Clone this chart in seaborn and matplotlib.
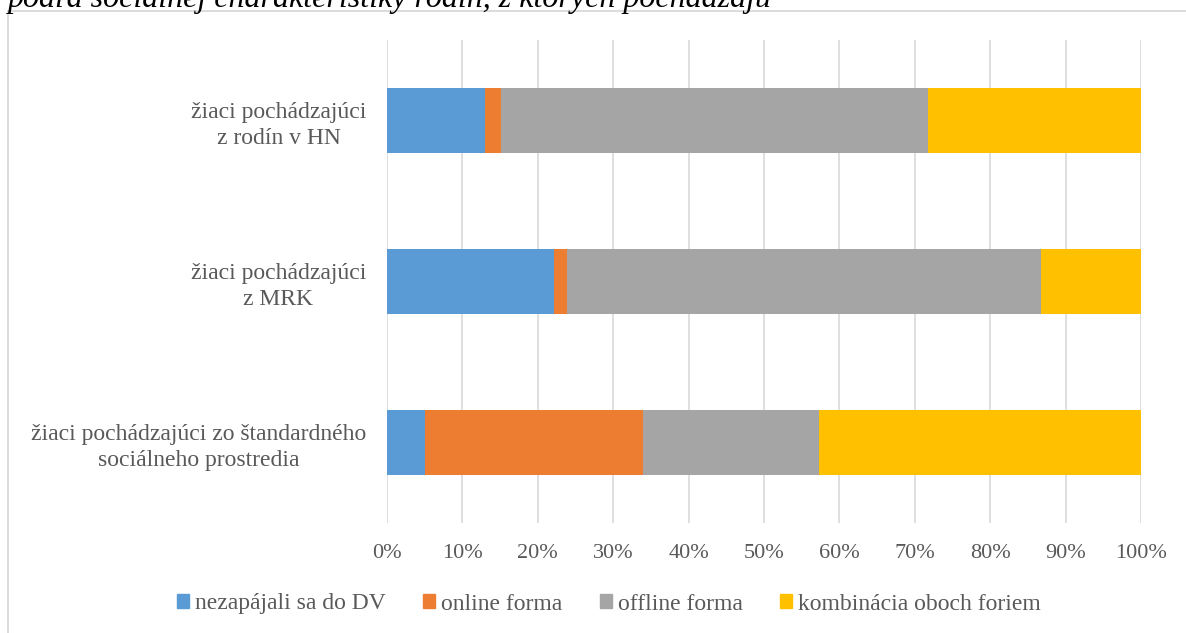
import matplotlib.pyplot as plt
import matplotlib.patches as mpatches
import matplotlib.ticker as ticker
import seaborn as sns
import pandas as pd
import numpy as np

# data (percent of pupils)
categories = ["žiaci pochádzajúci\nz rodín v HN",
              "žiaci pochádzajúci\nz MRK",
              "žiaci pochádzajúci zo štandardného\nsociálneho prostredia"]
series_names = ["nezapájali sa do DV", "online forma", "offline forma",
                "kombinácia oboch foriem"]
nezapajali = [13.0, 22.1, 5.1]
online = [2.1, 1.8, 28.9]
offline = [56.7, 62.8, 23.3]
kombinacia = [28.2, 13.3, 42.7]
colors = ["#5B9BD5", "#ED7D31", "#A5A5A5", "#FFC000"]

sns.set_style("white")
plt.rcParams["font.family"] = ["Liberation Serif", "DejaVu Serif"]
TXT = "#595959"

df = pd.DataFrame({"kat": categories,
                   series_names[0]: nezapajali,
                   series_names[1]: online,
                   series_names[2]: offline,
                   series_names[3]: kombinacia})
cum = df[series_names].cumsum(axis=1)

W, H = 1186, 633
fig = plt.figure(figsize=(W / 100, H / 100), dpi=100)
fig.patch.set_facecolor("white")

# outer chart frame (cut by the image edges)
fig.patches.append(mpatches.Rectangle((8 / W, -0.1), 1.2, 1 - 11 / H + 0.1,
                                      transform=fig.transFigure, fill=False,
                                      edgecolor="#D9D9D9", linewidth=1.3))
# caption above, cut off by the top edge like in the source
fig.text(8 / W, 1 - 7 / H, "podľa sociálnej charakteristiky rodín, z ktorých pochádzajú",
         fontsize=23, style="italic", color="black", va="baseline", ha="left")

ax = fig.add_axes([387 / W, 1 - 523 / H, 754 / W, 483 / H])

# stacked bars: draw cumulative totals from back to front
for name, col in reversed(list(zip(series_names, colors))):
    sns.barplot(x=cum[name], y=df["kat"], orient="h", color=col,
                width=0.4, linewidth=0, saturation=1, ax=ax)

ax.set_xlim(0, 100)
ax.set_ylim(2.5, -0.5)
ax.xaxis.set_major_locator(ticker.MultipleLocator(10))
ax.xaxis.set_major_formatter(ticker.FuncFormatter(lambda v, p: f"{v:.0f}%"))
ax.grid(axis="x", color="#D9D9D9", linewidth=1.2)
ax.set_axisbelow(True)
for s in ax.spines.values():
    s.set_visible(False)
ax.set_xlabel(None)
ax.set_ylabel(None)
ax.tick_params(axis="x", length=0, pad=15, labelsize=16, labelcolor=TXT)
ax.tick_params(axis="y", length=0, pad=15, labelsize=17, labelcolor=TXT)
for lab in ax.get_yticklabels():
    lab.set_multialignment("center")
    lab.set_linespacing(1.3)

handles = [mpatches.Patch(color=c, label=n) for n, c in zip(series_names, colors)]
fig.legend(handles=handles, loc="center", bbox_to_anchor=(609 / W, 1 - 604 / H),
           ncol=4, frameon=False, fontsize=17, labelcolor=TXT,
           handlelength=0.5, handleheight=0.5, handletextpad=0.25,
           columnspacing=1.6)

fig.savefig("out.png", dpi=100)
